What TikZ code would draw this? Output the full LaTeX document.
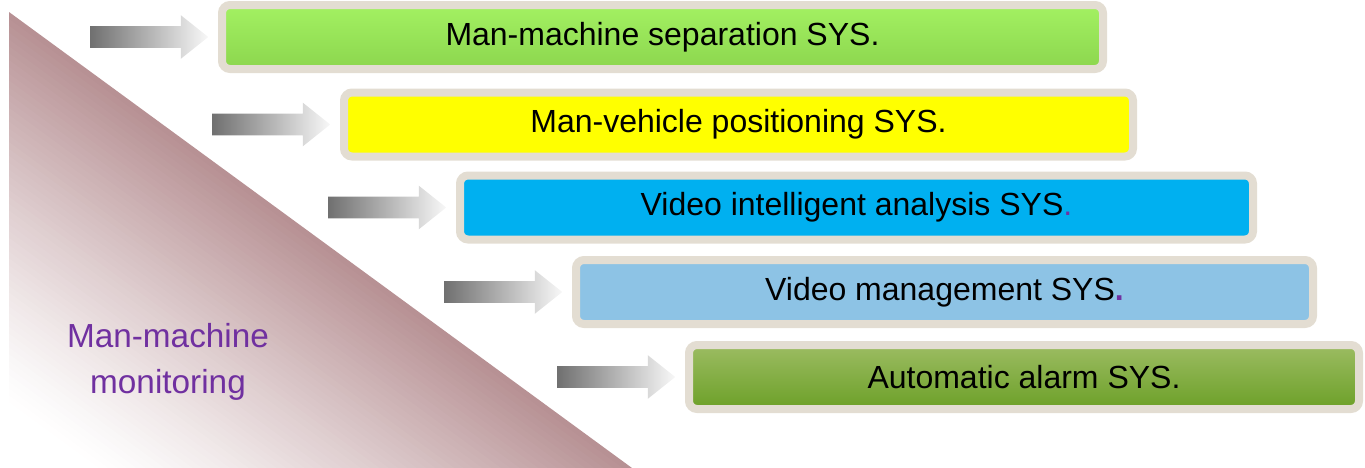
\documentclass[tikz,border=0pt]{standalone}
\usepackage{fontspec}
\setmainfont{Liberation Sans}
\usetikzlibrary{positioning,shapes.arrows}

\definecolor{frame}{HTML}{E3DDD2}
\definecolor{rose}{HTML}{B79194}
\definecolor{plum}{HTML}{7030A0}
\definecolor{greenA}{HTML}{A3F162}
\definecolor{greenB}{HTML}{8CD64E}
\definecolor{sunny}{HTML}{FFFF00}
\definecolor{cyanbox}{HTML}{00B0F0}
\definecolor{skybox}{HTML}{8DC3E5}
\definecolor{oliveA}{HTML}{9CBC62}
\definecolor{oliveB}{HTML}{6CA028}
\definecolor{arrowA}{HTML}{707070}
\definecolor{arrowM}{HTML}{C8C8C8}
\definecolor{arrowB}{HTML}{F8F8F8}

\tikzset{
  sysbox/.style={draw=frame, line width=6pt, rounded corners=6pt,
    minimum height=48pt, inner sep=0pt,
    font=\fontsize{24}{28}\selectfont, text=black},
  sysarrow/.style={single arrow, single arrow head extend=8.25pt,
    single arrow tip angle=77, minimum height=88.5pt,
    inner xsep=0pt, inner ysep=7.875pt,
    left color=arrowA, middle color=arrowM, right color=arrowB}
}

\begin{document}
\begin{tikzpicture}[x=0.75pt, y=-0.75pt]
\useasboundingbox (0,0) rectangle (1365,468);

% the wedge on the left, shaded by nested triangles
\foreach \s [evaluate=\s as \p using {100*pow(max(0.001,(\s-0.15)/0.85),1.2)}] in {1,0.985,...,0.01}
  \fill[rose!\p!white] (9,468-456*\s) -- (9,468) -- (9+623*\s,468) -- cycle;
\node[text=plum, align=center, font=\fontsize{25}{34}\selectfont] (mm) at (168,362)
  {Man-machine\\monitoring};

% the five systems
\node[sysbox, minimum width=660.75pt, top color=greenA, bottom color=greenB] (b1) at (662.5,37)
  {Man-machine separation SYS.};
\node[sysbox, minimum width=591.75pt, fill=sunny] (b2) at (738.5,124.5)
  {Man-vehicle positioning SYS.};
\node[sysbox, minimum width=594.75pt, fill=cyanbox] (b3) at (856.5,207.5)
  {Video intelligent analysis SYS\textcolor{plum}{.}};
\node[sysbox, minimum width=552.75pt, fill=skybox] (b4) at (944.5,292)
  {Video management SYS\textcolor{plum}{\textbf{.}}};
\node[sysbox, minimum width=502.5pt, top color=oliveA, bottom color=oliveB] (b5) at (1024,377)
  {Automatic alarm SYS.};

% arrows pointing at them
\foreach \i in {1,...,5}
  \node[sysarrow, left=7pt of b\i] (a\i) {};
\end{tikzpicture}
\end{document}
